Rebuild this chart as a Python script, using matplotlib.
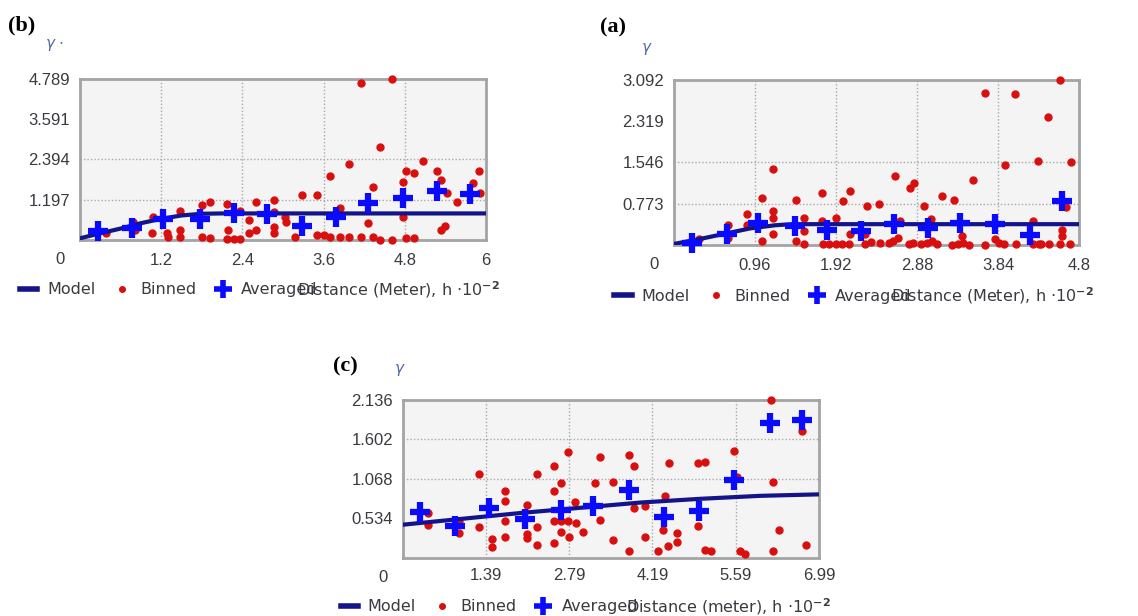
import numpy as np
import matplotlib.pyplot as plt
from matplotlib.lines import Line2D

# ---- panel (b) ----
b_bin_x = [0.38, 0.79, 0.81, 1.08, 1.07, 1.28, 1.30, 1.48, 1.48, 1.48, 1.80, 1.92, 1.80, 1.92,
           2.17, 2.18, 2.17, 2.27, 2.36, 2.36, 2.49, 2.49, 2.60, 2.60, 2.87, 2.87, 2.87, 2.87,
           3.03, 3.04, 3.18, 3.28, 3.50, 3.50, 3.60, 3.69, 3.69, 3.84, 3.84, 3.97, 3.97, 4.15,
           4.15, 4.26, 4.33, 4.33, 4.43, 4.43, 4.61, 4.61, 4.78, 4.78, 4.82, 4.93, 4.82, 4.93,
           5.07, 5.27, 5.34, 5.34, 5.39, 5.42, 5.57, 5.81, 5.89, 5.91]
b_bin_y = [0.20, 0.54, 0.30, 0.69, 0.22, 0.20, 0.08, 0.87, 0.30, 0.08, 1.04, 1.12, 0.08, 0.05,
           1.07, 0.30, 0.02, 0.02, 0.02, 0.87, 0.60, 0.20, 1.12, 0.30, 1.19, 0.84, 0.40, 0.22,
           0.69, 0.54, 0.08, 1.34, 1.34, 0.15, 0.15, 1.90, 0.08, 0.94, 0.08, 2.25, 0.08, 4.66,
           0.08, 0.50, 1.59, 0.08, 2.78, 0.01, 4.79, 0.00, 1.73, 0.67, 2.06, 2.00, 0.05, 0.05,
           2.36, 2.06, 1.79, 0.30, 0.42, 1.39, 1.12, 1.69, 2.06, 1.41]
b_avg_x = [0.26, 0.77, 1.23, 1.77, 2.28, 2.76, 3.28, 3.79, 4.26, 4.77, 5.28, 5.76]
b_avg_y = [0.27, 0.37, 0.62, 0.62, 0.79, 0.76, 0.43, 0.69, 1.09, 1.24, 1.46, 1.37]
b_mod_x = [0.0, 0.3, 0.6, 0.9, 1.2, 1.5, 1.8, 2.1, 6.0]
b_mod_y = [0.05, 0.20, 0.34, 0.50, 0.63, 0.73, 0.78, 0.79, 0.79]
b_xticks = [0, 1.2, 2.4, 3.6, 4.8, 6]
b_xlabels = ['0', '1.2', '2.4', '3.6', '4.8', '6']
b_yticks = [1.197, 2.394, 3.591, 4.789]
b_ylabels = ['1.197', '2.394', '3.591', '4.789']

# ---- panel (a) ----
a_bin_x = [0.29, 0.64, 0.64, 0.87, 0.87, 1.04, 1.04, 1.17, 1.17, 1.17, 1.17, 1.45, 1.45,
           1.54, 1.54, 1.54, 1.75, 1.75, 1.77, 1.84, 1.92, 1.99, 2.07, 1.92, 2.00, 2.09, 2.09,
           2.29, 2.43, 2.62, 2.80, 2.84, 2.96, 3.17, 3.32, 3.54, 3.69, 4.04, 3.92, 4.31, 4.43,
           4.57, 4.71, 4.60, 4.60, 4.65, 4.26, 4.57, 4.69, 4.44, 4.32,
           2.26, 2.33, 2.44, 2.55, 2.59, 2.66, 2.79, 2.83, 2.93, 3.00, 3.06, 3.12, 3.30, 3.36,
           3.43, 3.50, 3.69, 3.80, 3.85, 3.91, 4.05, 4.25, 4.35, 2.68, 3.04, 3.41, 2.26]
a_bin_y = [0.11, 0.37, 0.14, 0.58, 0.37, 0.88, 0.07, 1.42, 0.63, 0.51, 0.20, 0.85, 0.07,
           0.51, 0.26, 0.01, 0.98, 0.45, 0.01, 0.01, 0.01, 0.01, 0.01, 0.51, 0.82, 1.02, 0.20,
           0.73, 0.76, 1.29, 1.07, 1.16, 0.73, 0.91, 0.85, 1.22, 2.84, 2.82, 1.49, 1.57, 2.39,
           3.09, 1.55, 0.28, 0.16, 0.72, 0.44, 0.01, 0.01, 0.01, 0.01,
           0.01, 0.05, 0.03, 0.04, 0.07, 0.14, 0.01, 0.04, 0.01, 0.04, 0.07, 0.01, 0.00, 0.02,
           0.04, 0.00, 0.00, 0.11, 0.04, 0.01, 0.01, 0.01, 0.01, 0.45, 0.48, 0.17, 0.20]
a_avg_x = [0.21, 0.63, 1.00, 1.43, 1.81, 2.22, 2.61, 3.01, 3.39, 3.80, 4.22, 4.60]
a_avg_y = [0.04, 0.20, 0.42, 0.35, 0.29, 0.27, 0.39, 0.32, 0.42, 0.39, 0.18, 0.82]
a_mod_x = [0.0, 0.3, 0.6, 0.9, 1.2, 1.4, 4.8]
a_mod_y = [0.02, 0.11, 0.21, 0.31, 0.37, 0.39, 0.39]
a_xticks = [0, 0.96, 1.92, 2.88, 3.84, 4.8]
a_xlabels = ['0', '0.96', '1.92', '2.88', '3.84', '4.8']
a_yticks = [0.773, 1.546, 2.319, 3.092]
a_ylabels = ['0.773', '1.546', '2.319', '3.092']

# ---- panel (c) ----
c_bin_x = [0.42, 0.42, 0.94, 0.94, 1.27, 1.27, 1.50, 1.50, 1.71, 1.71, 1.71, 1.71, 2.09, 2.09,
           2.09, 2.25, 2.25, 2.25, 2.53, 2.53, 2.53, 2.53, 2.66, 2.66, 2.66, 2.77, 2.77, 2.79,
           2.89, 2.91, 3.02, 3.23, 3.31, 3.53, 3.79, 3.88, 3.88, 4.06, 3.53, 3.79, 4.07, 3.31,
           4.40, 4.29, 4.47, 4.46, 4.60, 4.60, 4.37, 4.96, 5.07, 4.96, 5.07, 5.17, 5.57, 5.61,
           5.66, 5.74, 6.18, 6.22, 6.31, 6.22, 6.70, 6.77]
c_bin_y = [0.61, 0.44, 0.50, 0.34, 1.14, 0.42, 0.25, 0.15, 0.91, 0.77, 0.50, 0.28, 0.71, 0.32,
           0.27, 1.14, 0.42, 0.17, 1.24, 0.91, 0.50, 0.20, 1.01, 0.50, 0.35, 1.43, 0.50, 0.29,
           0.75, 0.47, 0.35, 1.01, 1.37, 1.03, 1.39, 1.25, 0.67, 0.70, 0.24, 0.09, 0.29, 0.52,
           0.84, 0.09, 1.29, 0.16, 0.34, 0.22, 0.38, 1.28, 1.30, 0.43, 0.11, 0.10, 1.44, 1.10,
           0.10, 0.05, 2.14, 1.03, 0.38, 0.09, 1.71, 0.17]
c_avg_x = [0.28, 0.88, 1.45, 2.05, 2.65, 3.20, 3.79, 4.38, 4.97, 5.57, 6.17, 6.70]
c_avg_y = [0.62, 0.43, 0.67, 0.53, 0.65, 0.70, 0.92, 0.56, 0.63, 1.05, 1.82, 1.87]
c_mod_x = [0.0, 1.0, 2.0, 3.0, 4.0, 5.0, 6.0, 6.99]
c_mod_y = [0.45, 0.53, 0.61, 0.68, 0.75, 0.80, 0.84, 0.86]
c_xticks = [0, 1.39, 2.79, 4.19, 5.59, 6.99]
c_xlabels = ['0', '1.39', '2.79', '4.19', '5.59', '6.99']
c_yticks = [0.534, 1.068, 1.602, 2.136]
c_ylabels = ['0.534', '1.068', '1.602', '2.136']

NAVY = '#14148a'
RED = '#d90f0f'
BLUE = '#0a0aff'
TXT = '#3a3a40'
TICKFONT = 'Liberation Sans'


def draw_panel(ax, bin_x, bin_y, avg_x, avg_y, mod_x, mod_y,
               xticks, xlabels, yticks, ylabels, grid_y, xlabel,
               tag, tag_xy, ylab, ylab_xy, xpad, leg_x):
    ax.set_facecolor('#f4f4f4')
    ax.set_xlim(0, xticks[-1])
    ax.set_ylim(0, yticks[-1])

    # dotted grid: all interior verticals, only two horizontals
    for gx in xticks[1:-1]:
        ax.axvline(gx, color='#a8a8a8', lw=1, ls=(0, (1, 1.5)), zorder=1)
    for gy in grid_y:
        ax.axhline(gy, color='#a8a8a8', lw=1, ls=(0, (1, 1.5)), zorder=1)

    ax.plot(bin_x, bin_y, 'o', color=RED, ms=5, zorder=3, clip_on=False)
    ax.plot(mod_x, mod_y, color=NAVY, lw=3, zorder=4)
    ax.plot(avg_x, avg_y, '+', color=BLUE, ms=14, mew=4.5, zorder=5, clip_on=False)

    for s in ax.spines.values():
        s.set_color('#a4a4a4')
        s.set_linewidth(2)

    ax.set_xticks(xticks[1:], xlabels[1:])
    ax.set_yticks(yticks, ylabels)
    ax.tick_params(length=0, labelsize=12, labelcolor=TXT)
    ax.tick_params(axis='x', pad=xpad)
    ax.tick_params(axis='y', pad=7)
    for lab in ax.get_xticklabels() + ax.get_yticklabels():
        lab.set_family(TICKFONT)
    ax.annotate('0', xy=(0, 0), xytext=(-20, -20), textcoords='offset pixels',
                ha='center', va='center', fontsize=12, color=TXT, family=TICKFONT,
                annotation_clip=False)

    handles = [Line2D([], [], color=NAVY, lw=4),
               Line2D([], [], marker='o', ls='', color=RED, ms=4),
               Line2D([], [], marker='+', ls='', color=BLUE, ms=13, mew=4)]
    leg = ax.legend(handles, ['Model', 'Binned', 'Averaged'], ncol=3, frameon=False,
                    loc='center left', bbox_to_anchor=(leg_x, -0.31),
                    handlelength=1.1, handletextpad=0.6, columnspacing=1.1,
                    borderaxespad=0, borderpad=0, prop={'size': 11.5})
    for t in leg.get_texts():
        t.set_color(TXT)
    ax.text(0.535, -0.31, xlabel, transform=ax.transAxes, ha='left', va='center',
            fontsize=11.5, color=TXT)

    ax.text(tag_xy[0], tag_xy[1], tag, transform=ax.transAxes, ha='left', va='center',
            fontsize=16, fontweight='bold', family='Liberation Serif')
    ax.text(ylab_xy[0], ylab_xy[1], ylab, transform=ax.transAxes, ha='center',
            va='center', fontsize=11, color='#5068a0')


fig = plt.figure(figsize=(11.38, 6.16), dpi=100)
ax_b = fig.add_axes([0.0703, 0.6104, 0.3568, 0.2614])
ax_a = fig.add_axes([0.5923, 0.6023, 0.3559, 0.2679])
ax_c = fig.add_axes([0.3541, 0.0942, 0.3656, 0.2565])

draw_panel(ax_b, b_bin_x, b_bin_y, b_avg_x, b_avg_y, b_mod_x, b_mod_y,
           b_xticks, b_xlabels, b_yticks, b_ylabels, [1.197, 2.394],
           r'Distance (Meter), h $\cdot$10$^{\mathbf{-2}}$',
           '(b)', (-0.177, 1.335), r'$\gamma$ $\cdot$', (-0.062, 1.21), 9.5, -0.148)
draw_panel(ax_a, a_bin_x, a_bin_y, a_avg_x, a_avg_y, a_mod_x, a_mod_y,
           a_xticks, a_xlabels, a_yticks, a_ylabels, [0.773, 1.546],
           r'Distance (Meter), h $\cdot$10$^{\mathbf{-2}}$',
           '(a)', (-0.183, 1.32), r'$\gamma$', (-0.067, 1.19), 9.5, -0.148)
draw_panel(ax_c, c_bin_x, c_bin_y, c_avg_x, c_avg_y, c_mod_x, c_mod_y,
           c_xticks, c_xlabels, c_yticks, c_ylabels, [1.068, 1.602],
           r'Distance (meter), h $\cdot$10$^{\mathbf{-2}}$',
           '(c)', (-0.168, 1.21), r'$\gamma$', (-0.007, 1.19), 7.5, -0.15)

fig.savefig('out.png', dpi=100)
